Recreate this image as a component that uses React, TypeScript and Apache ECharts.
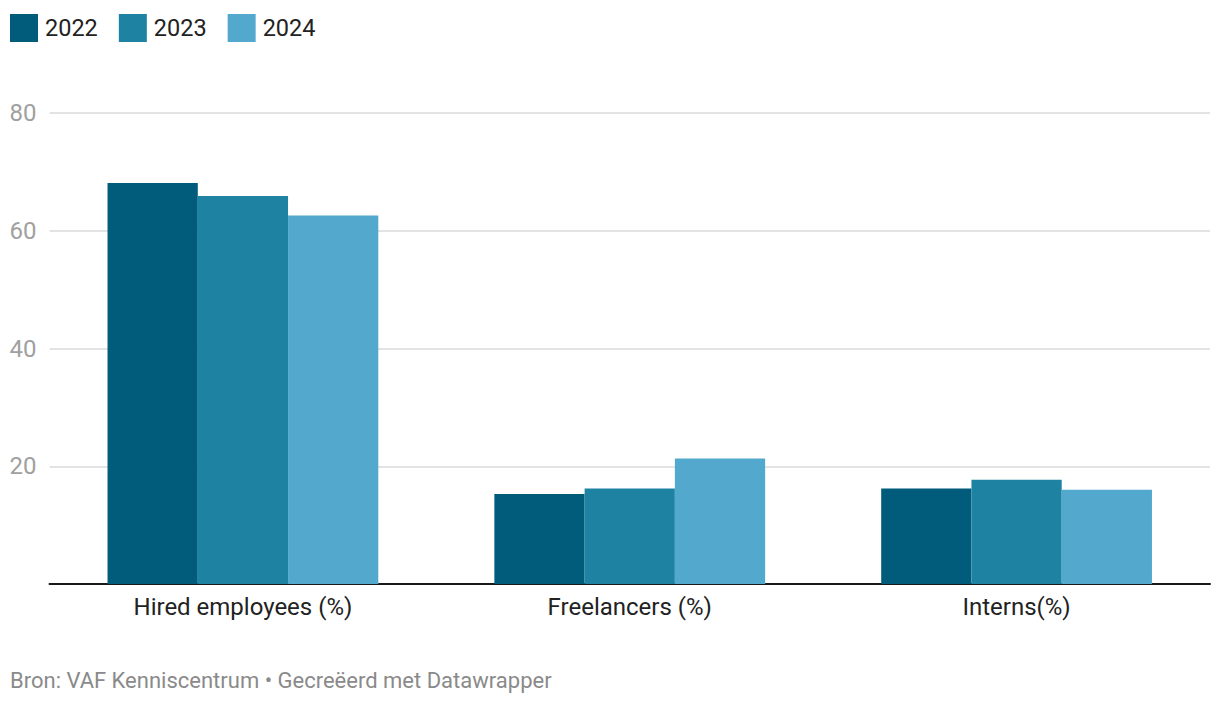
import React, { useEffect, useRef } from "react";
import * as echarts from "echarts";

const categories = ["Hired employees (%)", "Freelancers (%)", "Interns(%)"];
const years = ["2022", "2023", "2024"];
const values2022 = [68.1, 15.3, 16.2];
const values2023 = [65.9, 16.2, 17.7];
const values2024 = [62.6, 21.3, 16.0];
const yTicks = [0, 20, 40, 60, 80];
const colors = ["#015c7c", "#1e82a2", "#52a9cd"];
const footer = "Bron: VAF Kenniscentrum • Gecreëerd met Datawrapper";

export default function App() {
  const ref = useRef<HTMLDivElement>(null);
  useEffect(() => {
    if (!ref.current) return;
    const chart = echarts.init(ref.current, undefined, { renderer: "svg" });
    const seriesData = [values2022, values2023, values2024];
    chart.setOption({
      animation: false,
      textStyle: { fontFamily: "Roboto" },
      legend: {
        left: 10,
        top: 14,
        padding: 0,
        icon: "rect",
        itemWidth: 28,
        itemHeight: 28,
        itemGap: 21,
        textStyle: { fontSize: 23.5, color: "#222", fontFamily: "Roboto", padding: [0, 0, 0, 2] },
        data: years,
      },
      grid: { left: 49.5, right: 10, top: 113, bottom: 122, containLabel: false },
      xAxis: {
        type: "category",
        data: categories,
        axisTick: { show: false },
        axisLine: { lineStyle: { color: "#1a1a1a", width: 2 } },
        axisLabel: { fontSize: 24, color: "#222", margin: 11, fontFamily: "Roboto" },
      },
      yAxis: {
        type: "value",
        min: yTicks[0],
        max: yTicks[yTicks.length - 1],
        interval: 20,
        axisLine: { show: false },
        axisTick: { show: false },
        splitLine: { lineStyle: { color: "#e3e3e3", width: 2 } },
        axisLabel: {
          fontSize: 24,
          color: "#a0a0a0",
          margin: 13,
          fontFamily: "Roboto",
          formatter: (v: number) => (v === 0 ? "" : String(v)),
        },
      },
      series: years.map((y, i) => ({
        name: y,
        type: "bar",
        data: seriesData[i],
        barGap: "0%",
        barCategoryGap: "30%",
        itemStyle: { color: colors[i] },
      })),
      graphic: [
        {
          type: "text",
          left: 10,
          top: 669,
          style: { text: footer, fontSize: 22, fill: "#8a8a8a", fontFamily: "Roboto" },
        },
      ],
    });
    return () => chart.dispose();
  }, []);
  return (
    <div
      ref={ref}
      style={{ position: "absolute", left: 0, top: 0, width: 1220, height: 706, background: "#fff" }}
    />
  );
}
